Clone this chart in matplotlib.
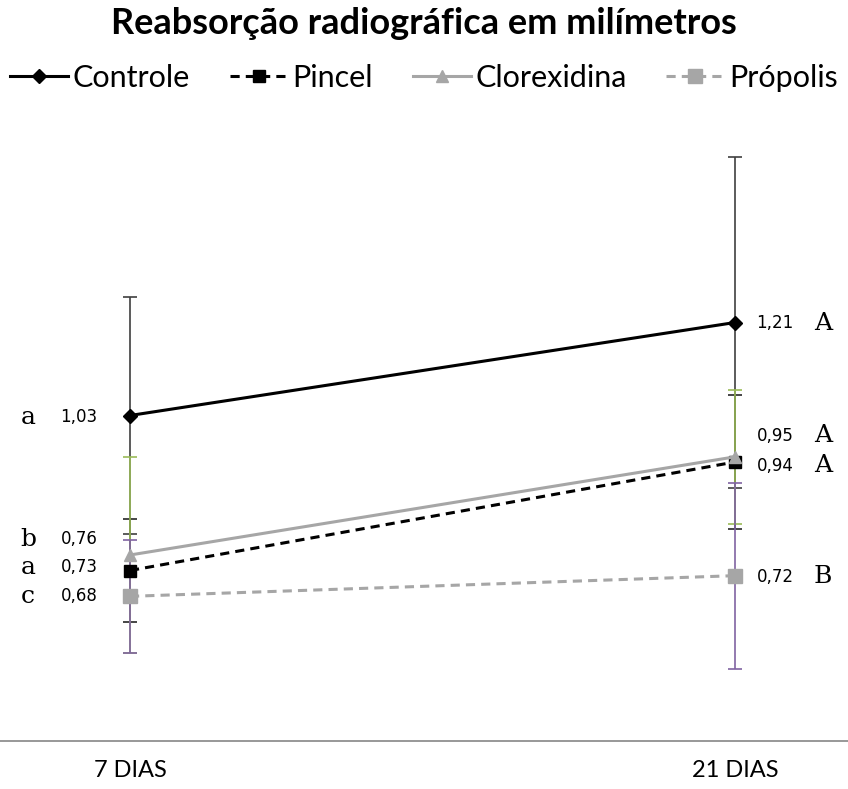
import matplotlib
matplotlib.use("Agg")
import matplotlib.pyplot as plt

categories = ["7 DIAS", "21 DIAS"]
series = ["Controle", "Pincel", "Clorexidina", "Própolis"]
values = {
    "Controle": [1.03, 1.21],
    "Pincel": [0.73, 0.94],
    "Clorexidina": [0.76, 0.95],
    "Própolis": [0.68, 0.72],
}
errors = {
    "Controle": [0.23, 0.32],
    "Pincel": [0.10, 0.13],
    "Clorexidina": [0.19, 0.13],
    "Própolis": [0.11, 0.18],
}
letters_left = {"Controle": "a", "Pincel": "a", "Clorexidina": "b", "Própolis": "c"}
letters_right = {"Controle": "A", "Pincel": "A", "Clorexidina": "A", "Própolis": "B"}

styles = {
    "Controle": dict(color="black", ls="-", marker="D", ms=7, err="#404040"),
    "Pincel": dict(color="black", ls=(0, (3, 2)), marker="s", ms=8, err="#262626"),
    "Clorexidina": dict(color="#A6A6A6", ls="-", marker="^", ms=9, err="#9BBB59"),
    "Própolis": dict(color="#A6A6A6", ls=(0, (3, 2)), marker="s", ms=10, err="#8064A2"),
}
# label vertical offsets in pixels (left, right)
label_dy = {
    "Controle": (-2, -1),
    "Pincel": (3, -4),
    "Clorexidina": (16, 21),
    "Própolis": (0, -1),
}

W, H = 848, 789
fig = plt.figure(figsize=(W / 100, H / 100), dpi=100)
ax = fig.add_axes([0, (H - 741) / H, 1, (741 - 121) / H])
x = list(range(len(categories)))

for s in series:
    st = styles[s]
    ax.errorbar(x, values[s], yerr=errors[s], fmt="none", ecolor=st["err"],
                elinewidth=1.2, capsize=5, capthick=1.2, zorder=2)
for s in series:
    st = styles[s]
    ax.plot(x, values[s], color=st["color"], ls=st["ls"], lw=2.2,
            marker=st["marker"], ms=st["ms"], mfc=st["color"], mec=st["color"],
            label=s, zorder=3)

for s in series:
    v0, v1 = values[s]
    dl, dr = label_dy[s]
    ax.annotate(f"{v0:.2f}".replace(".", ","), (0, v0), xytext=(-51, dl),
                textcoords="offset pixels", ha="center", va="center",
                fontsize=12, family="DejaVu Sans")
    ax.annotate(letters_left[s], (0, v0), xytext=(-102, dl),
                textcoords="offset pixels", ha="center", va="center",
                fontsize=18, family="DejaVu Serif")
    ax.annotate(f"{v1:.2f}".replace(".", ","), (1, v1), xytext=(40, dr),
                textcoords="offset pixels", ha="center", va="center",
                fontsize=12, family="DejaVu Sans")
    ax.annotate(letters_right[s], (1, v1), xytext=(88, dr),
                textcoords="offset pixels", ha="center", va="center",
                fontsize=18, family="DejaVu Serif")

ax.set_xlim(-130 / 605, 1 + 113 / 605)
ax.set_ylim(0.4, 1.6)
ax.set_xticks(x)
ax.set_xticklabels(categories, fontsize=17, family="Lato")
ax.tick_params(axis="x", length=0, pad=14)
ax.set_yticks([])
for sp in ["top", "left", "right"]:
    ax.spines[sp].set_visible(False)
ax.spines["bottom"].set_color("#868686")
ax.spines["bottom"].set_linewidth(1.2)

fig.text(0.5, 1 - 23 / H, "Reabsorção radiográfica em milímetros", ha="center",
         va="center", fontsize=26, fontweight="bold", family="Lato")

leg = fig.legend(loc="center", bbox_to_anchor=(0.5, 1 - 78 / H), ncol=4,
                 frameon=False, handlelength=1.9, handletextpad=0.15,
                 columnspacing=1.3, borderaxespad=0, borderpad=0,
                 prop={"family": "Lato", "size": 22})

fig.savefig("out.png", dpi=100)
